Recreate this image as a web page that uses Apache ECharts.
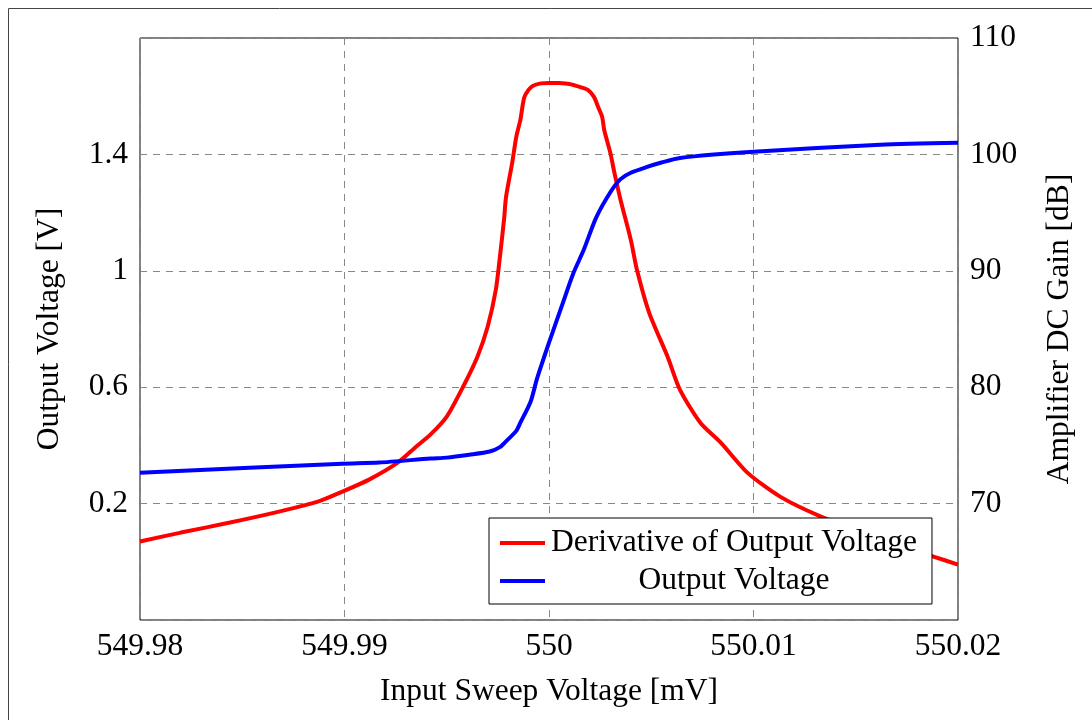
<!DOCTYPE html>
<html>
<head>
<meta charset="utf-8">
<script src="https://cdn.jsdelivr.net/npm/echarts@6/dist/echarts.min.js"></script>
<style>
html,body{margin:0;padding:0;background:#fff;}
#chart{width:1092px;height:720px;}
</style>
</head>
<body>
<div id="chart"></div>
<script>
// Input sweep voltage [mV] for the derivative curve
const derivX = [549.9800, 549.9820, 549.9844, 549.9868, 549.9887, 549.9899, 549.9912, 549.9926, 549.9935, 549.9942,
  549.9950, 549.9958, 549.9965, 549.9970, 549.9974, 549.9976, 549.9978, 549.9979, 549.9982, 549.9984,
  549.9986, 549.9987, 549.9988, 549.9990, 549.9992, 549.9996, 550.0000, 550.0005, 550.0010, 550.0015,
  550.0019, 550.0022, 550.0024, 550.0026, 550.0027, 550.0030, 550.0032, 550.0035, 550.0040, 550.0043,
  550.0049, 550.0058, 550.0064, 550.0074, 550.0084, 550.0097, 550.0113, 550.0133, 550.0162, 550.0188,
  550.0200];
// Amplifier DC gain [dB] (derivative of output voltage)
const derivGain = [66.74, 67.51, 68.37, 69.31, 70.17, 71.03, 72.06, 73.52, 74.89, 75.92,
  77.47, 80.04, 82.62, 85.19, 88.37, 91.20, 94.38, 96.35, 99.27, 101.50,
  102.96, 104.08, 104.94, 105.54, 105.88, 106.10, 106.14, 106.13, 106.05, 105.80,
  105.54, 104.94, 104.08, 103.22, 102.10, 100.13, 98.41, 96.09, 92.66, 90.09,
  86.39, 82.62, 79.79, 76.95, 75.24, 72.66, 70.60, 68.88, 66.91, 65.45,
  64.76];
// Input sweep voltage [mV] for the output voltage curve
const outX = [549.9800, 549.9899, 549.9917, 549.9942, 549.9950, 549.9961, 549.9971, 549.9976, 549.9979, 549.9984,
  549.9986, 549.9991, 549.9994, 549.9996, 550.0000, 550.0007, 550.0012, 550.0017, 550.0023, 550.0030,
  550.0035, 550.0040, 550.0048, 550.0055, 550.0064, 550.0100, 550.0162, 550.0200];
// Output voltage [V]
const outV = [0.306, 0.337, 0.341, 0.355, 0.358, 0.368, 0.379, 0.394, 0.414, 0.450,
  0.478, 0.550, 0.626, 0.670, 0.753, 0.894, 0.993, 1.072, 1.182, 1.270,
  1.315, 1.337, 1.357, 1.372, 1.388, 1.409, 1.433, 1.440];

const seriesNames = ['Derivative of Output Voltage', 'Output Voltage'];
const xTitle = 'Input Sweep Voltage [mV]';
const yLeftTitle = 'Output Voltage [V]';
const yRightTitle = 'Amplifier DC Gain [dB]';

const FONT = '"Liberation Serif", "DejaVu Serif", serif';
const FS = 31.5;
const chart = echarts.init(document.getElementById('chart'), null, {renderer: 'canvas'});

const fmt = v => String(Number(v.toFixed(2)));
const grid = {color: '#888', type: [7, 6], width: 1};

chart.setOption({
  animation: false,
  backgroundColor: '#fff',
  textStyle: {fontFamily: FONT},
  graphic: [{
    type: 'rect', silent: true, z: 0,
    shape: {x: 8.5, y: 8.5, width: 1200, height: 900},
    style: {fill: 'none', stroke: '#444', lineWidth: 1}
  }],
  grid: {
    left: 140, top: 38, right: 134, bottom: 100,
    show: true, borderColor: '#000', borderWidth: 1, backgroundColor: 'transparent'
  },
  legend: {
    orient: 'vertical',
    left: 489, top: 518,
    padding: [9, 15, 7, 11],
    itemGap: 6,
    itemWidth: 45, itemHeight: 14,
    backgroundColor: '#fff',
    borderColor: '#000', borderWidth: 1,
    formatter: n => '{c|' + n + '}',
    textStyle: {
      fontFamily: FONT, fontSize: FS, color: '#000',
      rich: {c: {fontFamily: FONT, fontSize: FS, width: 368, align: 'center', color: '#000'}}
    },
    data: [
      {name: seriesNames[0], icon: 'path://M0,0 L45,0 L45,4 L0,4 Z', itemStyle: {color: '#ff0000'}},
      {name: seriesNames[1], icon: 'path://M0,0 L45,0 L45,4 L0,4 Z', itemStyle: {color: '#0000ff'}}
    ]
  },
  xAxis: {
    type: 'value',
    min: 549.98, max: 550.02, interval: 0.01,
    name: xTitle, nameLocation: 'middle', nameGap: 56,
    nameTextStyle: {fontFamily: FONT, fontSize: FS, color: '#000'},
    axisLine: {show: false},
    axisTick: {show: false},
    axisLabel: {fontFamily: FONT, fontSize: FS, color: '#000', margin: 11, formatter: fmt},
    splitLine: {show: true, lineStyle: grid}
  },
  yAxis: [{
    type: 'value', position: 'left',
    min: -0.2, max: 1.8, interval: 0.4,
    name: yLeftTitle, nameLocation: 'middle', nameGap: 74, nameRotate: 90,
    nameTextStyle: {fontFamily: FONT, fontSize: FS, color: '#000'},
    axisLine: {show: false}, axisTick: {show: false},
    axisLabel: {fontFamily: FONT, fontSize: FS, color: '#000', margin: 12,
      showMinLabel: false, showMaxLabel: false, formatter: fmt},
    splitLine: {show: true, lineStyle: grid}
  }, {
    type: 'value', position: 'right',
    min: 60, max: 110, interval: 10,
    name: yRightTitle, nameLocation: 'middle', nameGap: 86, nameRotate: 90,
    nameTextStyle: {fontFamily: FONT, fontSize: FS, color: '#000'},
    axisLine: {show: false}, axisTick: {show: false},
    axisLabel: {fontFamily: FONT, fontSize: FS, color: '#000', margin: 12, showMinLabel: false},
    splitLine: {show: false}
  }],
  series: [{
    name: seriesNames[0],
    type: 'line', yAxisIndex: 1,
    data: derivX.map((x, i) => [x, derivGain[i]]),
    showSymbol: false, symbol: 'none',
    smooth: 0.25,
    color: '#ff0000',
    lineStyle: {color: '#ff0000', width: 4}
  }, {
    name: seriesNames[1],
    type: 'line', yAxisIndex: 0,
    data: outX.map((x, i) => [x, outV[i]]),
    showSymbol: false, symbol: 'none',
    smooth: 0.25,
    color: '#0000ff',
    lineStyle: {color: '#0000ff', width: 4}
  }]
});
</script>
</body>
</html>
